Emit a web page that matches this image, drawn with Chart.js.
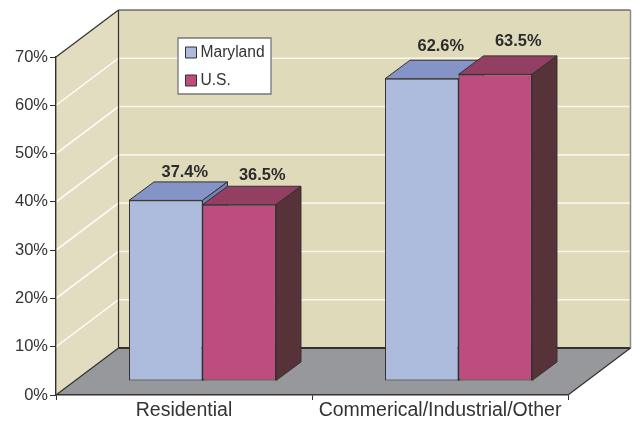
<!DOCTYPE html>
<html>
<head>
<meta charset="utf-8">
<title>Maryland vs U.S.</title>
<script src="https://cdn.jsdelivr.net/npm/chart.js@4"></script>
<style>
    html, body { margin: 0; padding: 0; background: #fff; }
    canvas { display: block; }
</style>
</head>
<body>
<canvas id="share-chart" width="632" height="422"></canvas>
<script>
// Chart data
var categories = ['Residential', 'Commerical/Industrial/Other'];
var marylandValues = [37.4, 62.6];
var usValues = [36.5, 63.5];
var seriesNames = ['Maryland', 'U.S.'];

// Colours: front, top and side of each series
var frontColors = ['#adbbdd', '#bd4d7e'];
var topColors = ['#8594c6', '#923f63'];
var sideColors = ['#7483b5', '#573239'];
var lineColor = '#33302f';
var textColor = '#333333';
var fontName = '"Liberation Sans", Arial, sans-serif';

// Fake 3D depth in pixels
var wallDepth = { x: 62.5, y: 47 };
var barShift = { x: 18.5, y: 14 };
var barDepth = { x: 25, y: 18.5 };

// Value label nudges per series, relative to the bar's top centre
var labelNudgeX = [19, 23];
var labelNudgeY = [[-28, -32], [-29.5, -32.5]];

function fillShape(ctx, points, fill, stroke, width) {
    ctx.beginPath();
    ctx.moveTo(points[0][0], points[0][1]);
    for (var i = 1; i < points.length; i++) {
        ctx.lineTo(points[i][0], points[i][1]);
    }
    ctx.closePath();
    if (fill) {
        ctx.fillStyle = fill;
        ctx.fill();
    }
    if (stroke) {
        ctx.strokeStyle = stroke;
        ctx.lineWidth = width || 1;
        ctx.stroke();
    }
}

function strokeLine(ctx, x1, y1, x2, y2, color, width) {
    ctx.beginPath();
    ctx.moveTo(x1, y1);
    ctx.lineTo(x2, y2);
    ctx.strokeStyle = color;
    ctx.lineWidth = width;
    ctx.stroke();
}

var box3d = {
    id: 'box3d',

    // Back wall, side wall, floor and their gridlines
    beforeDraw: function (chart) {
        var ctx = chart.ctx;
        var xs = chart.scales.x;
        var ys = chart.scales.y;
        var dx = wallDepth.x, dy = wallDepth.y;
        var l = xs.left, r = xs.right, t = ys.top, b = ys.bottom;

        ctx.save();
        fillShape(ctx, [[l + dx, t - dy], [r + dx, t - dy], [r + dx, b - dy], [l + dx, b - dy]], '#dfdaba');
        fillShape(ctx, [[l, t], [l + dx, t - dy], [l + dx, b - dy], [l, b]], '#e2ddc0');
        fillShape(ctx, [[l, b], [l + dx, b - dy], [r + dx, b - dy], [r, b]], '#97989b');

        ys.ticks.forEach(function (tick) {
            if (tick.value === 0 || tick.value === ys.max) {
                return;
            }
            var y = ys.getPixelForValue(tick.value);
            strokeLine(ctx, l, y, l + dx, y - dy, '#ffffff', 1.4);
            strokeLine(ctx, l + dx, y - dy, r + dx, y - dy, '#f8f6ec', 1.6);
        });

        strokeLine(ctx, l, t, l + dx, t - dy, lineColor, 1.2);
        strokeLine(ctx, l + dx, t - dy, r + dx, t - dy, lineColor, 1.2);
        strokeLine(ctx, l + dx, t - dy, l + dx, b - dy, lineColor, 1.2);
        strokeLine(ctx, l + dx, b - dy, r + dx, b - dy, lineColor, 1.8);
        strokeLine(ctx, r + dx, t - dy, r + dx, b - dy, '#8d8d8a', 1.5);
        strokeLine(ctx, l, b, l + dx, b - dy, lineColor, 1.2);
        strokeLine(ctx, r, b, r + dx, b - dy, lineColor, 1.2);
        ctx.restore();
    },

    // Tops and sides go under the fronts, then the fronts are shifted back onto the floor
    beforeDatasetsDraw: function (chart) {
        var ctx = chart.ctx;
        ctx.save();
        ctx.translate(barShift.x, -barShift.y);
        ctx.lineJoin = 'round';
        chart.data.labels.forEach(function (label, index) {
            chart.data.datasets.forEach(function (dataset, ds) {
                var bar = chart.getDatasetMeta(ds).data[index];
                var left = bar.x - bar.width / 2;
                var right = bar.x + bar.width / 2;
                var dx = barDepth.x, dy = barDepth.y;
                fillShape(ctx, [[left, bar.y], [left + dx, bar.y - dy], [right + dx, bar.y - dy], [right, bar.y]],
                    topColors[ds], lineColor, 1);
                fillShape(ctx, [[right, bar.y], [right + dx, bar.y - dy], [right + dx, bar.base - dy], [right, bar.base]],
                    sideColors[ds], lineColor, 1);
            });
        });
    },

    afterDatasetsDraw: function (chart) {
        var ctx = chart.ctx;

        // Value labels
        ctx.font = 'bold 16.4px ' + fontName;
        ctx.fillStyle = '#2b2b2b';
        ctx.textAlign = 'center';
        ctx.textBaseline = 'middle';
        chart.data.datasets.forEach(function (dataset, ds) {
            chart.getDatasetMeta(ds).data.forEach(function (bar, index) {
                ctx.fillText(dataset.data[index].toFixed(1) + '%',
                    bar.x + labelNudgeX[ds], bar.y + labelNudgeY[ds][index]);
            });
        });
        ctx.restore();

        // Legend box
        ctx.save();
        fillShape(ctx, [[178, 38], [271, 38], [271, 94], [178, 94]], '#ffffff', '#77777a', 1.3);
        ctx.font = '15.6px ' + fontName;
        ctx.textAlign = 'left';
        ctx.textBaseline = 'middle';
        chart.data.datasets.forEach(function (dataset, ds) {
            var y = 52.5 + ds * 28;
            fillShape(ctx, [[185.5, y - 5.5], [196.5, y - 5.5], [196.5, y + 5.5], [185.5, y + 5.5]],
                dataset.backgroundColor, lineColor, 1);
            ctx.fillStyle = textColor;
            ctx.fillText(dataset.label, 200.5, y + 0.5);
        });
        ctx.restore();
    }
};

var ctx = document.getElementById('share-chart').getContext('2d');
var shareChart = new Chart(ctx, {
    type: 'bar',
    data: {
        labels: categories,
        datasets: [{
            label: seriesNames[0],
            data: marylandValues,
            backgroundColor: frontColors[0],
            borderColor: lineColor,
            borderWidth: 1,
            borderSkipped: false
        }, {
            label: seriesNames[1],
            data: usValues,
            backgroundColor: frontColors[1],
            borderColor: lineColor,
            borderWidth: 1,
            borderSkipped: false
        }]
    },
    options: {
        responsive: false,
        animation: false,
        categoryPercentage: 0.574,
        barPercentage: 1,
        layout: {
            padding: { top: 57, right: 64, bottom: 0, left: 0 }
        },
        plugins: {
            legend: { display: false },
            tooltip: { enabled: false }
        },
        scales: {
            x: {
                grid: { offset: true, drawOnChartArea: false, color: lineColor, tickLength: 5 },
                border: { color: lineColor, width: 1.4 },
                ticks: {
                    color: textColor,
                    padding: -1,
                    maxRotation: 0,
                    autoSkip: false,
                    font: { family: fontName, size: 19.5 }
                },
                afterFit: function (scale) { scale.height = 27; }
            },
            y: {
                min: 0,
                max: 70,
                grid: { drawOnChartArea: false, color: lineColor, tickLength: 6 },
                border: { color: lineColor, width: 1.4 },
                ticks: {
                    stepSize: 10,
                    color: textColor,
                    padding: 2,
                    font: { family: fontName, size: 16.5 },
                    callback: function (value) { return value + '%'; }
                },
                afterFit: function (scale) { scale.width = 56; }
            }
        }
    },
    plugins: [box3d]
});
</script>
</body>
</html>
